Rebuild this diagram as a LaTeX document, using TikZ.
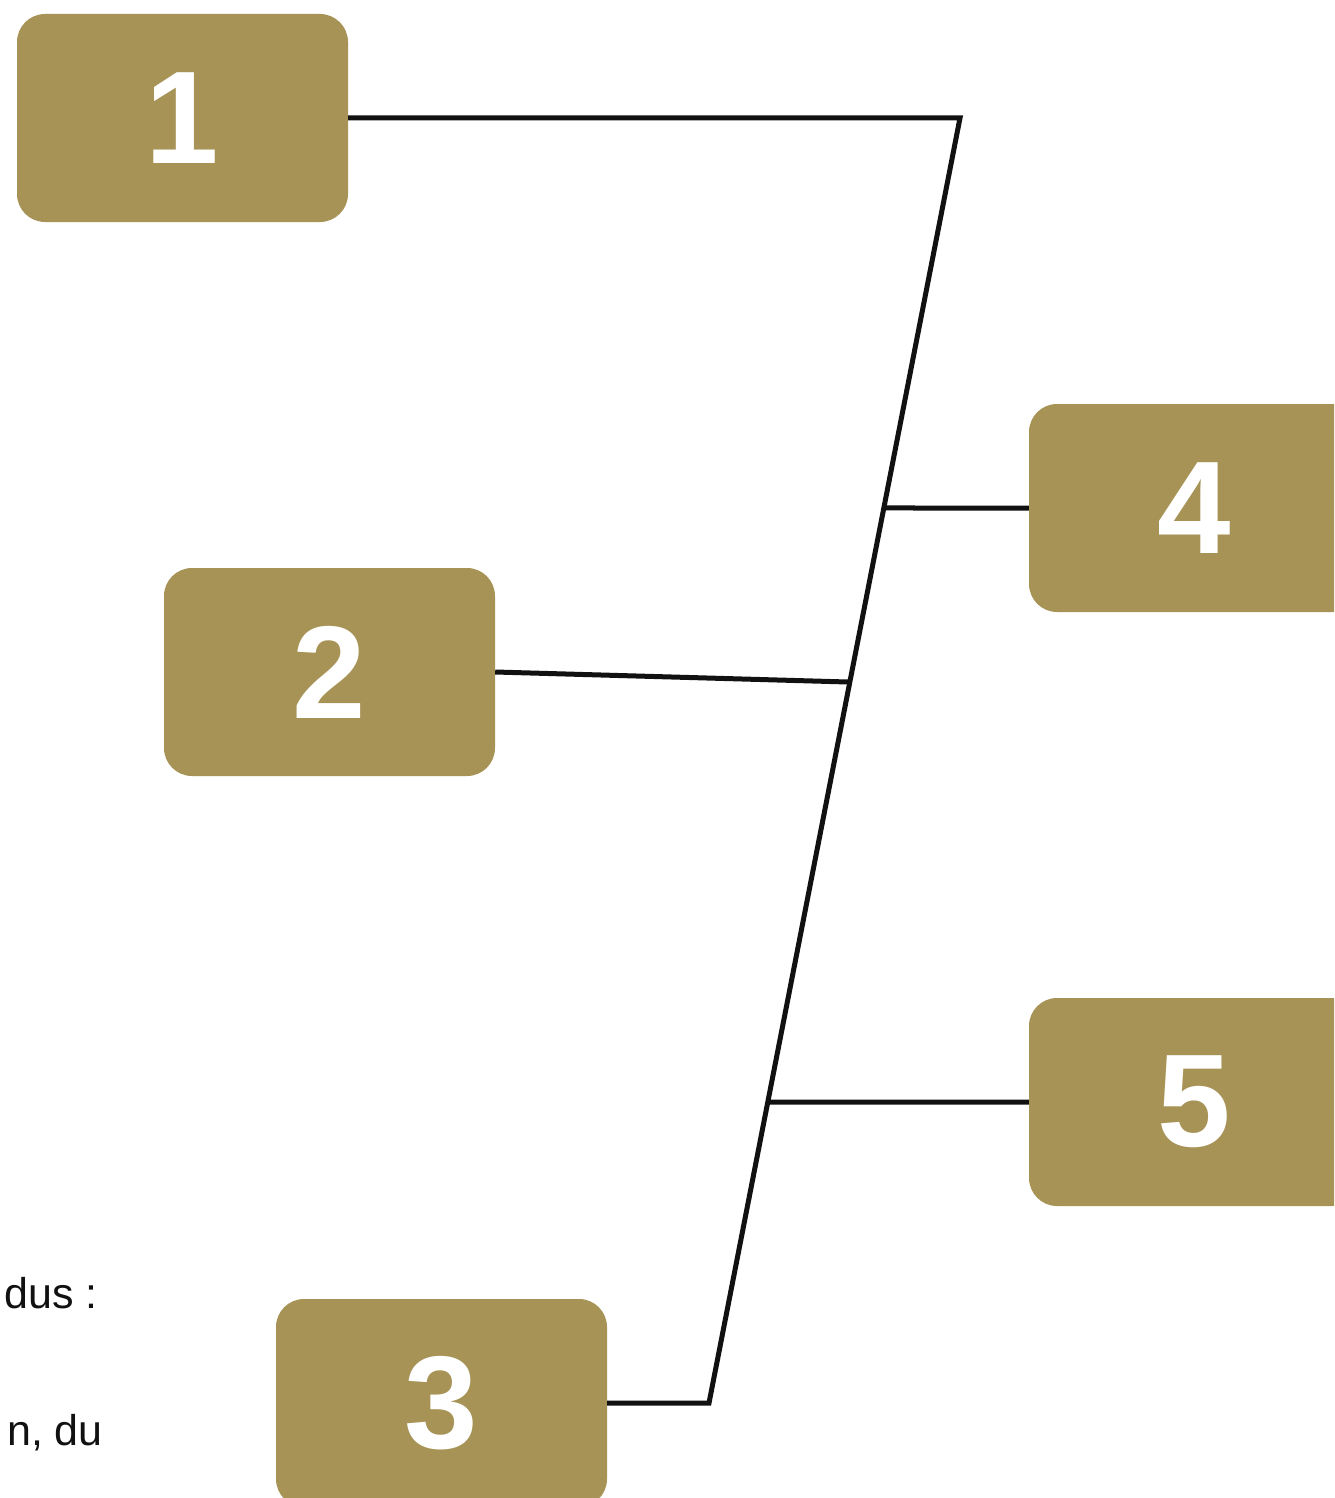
\documentclass[tikz,border=0pt]{standalone}
\usepackage{fontspec}
\setmainfont{Liberation Sans}
\usetikzlibrary{calc}
\definecolor{olive}{RGB}{166,147,85}
\definecolor{ink}{RGB}{17,17,17}
\begin{document}
\begin{tikzpicture}[x=1pt,y=-1pt,
  numbox/.style={fill=olive, rounded corners=28pt, minimum width=331pt, minimum height=208pt,
    inner sep=0pt, text=white, font=\fontsize{132}{132}\selectfont\bfseries},
  link/.style={draw=ink, line width=5pt},
  note/.style={inner sep=0pt, text=ink, font=\fontsize{43}{43}\selectfont, anchor=base east}]
\useasboundingbox (0,0) rectangle (1334,1498);
\clip (0,0) rectangle (1334,1498);
\node[numbox] (b1) at (182.5,118) {1};
\node[numbox] (b2) at (329.5,672) {2};
\node[numbox] (b3) at (441.5,1403) {3};
\node[numbox] (b4) at (1194.5,508) {4};
\node[numbox] (b5) at (1194.5,1102) {5};
\coordinate (top) at (960,118);
\coordinate (bot) at (709,1403);
\coordinate (j2) at (848,682);
\coordinate (j4) at ($(top)!0.3035!(bot)$);
\coordinate (j5) at ($(top)!0.7658!(bot)$);
\draw[link, line join=miter] (b1.east) -- (top) -- (bot) -- (b3.east);
\draw[link] (b2.east) -- (j2);
\draw[link] (j4) -- (b4.west);
\draw[link] (j5) -- (b5.west);
\node[note] (t1) at (98,1308) {dus :};
\node[note] (t2) at (103,1445) {n, du};
\end{tikzpicture}
\end{document}
